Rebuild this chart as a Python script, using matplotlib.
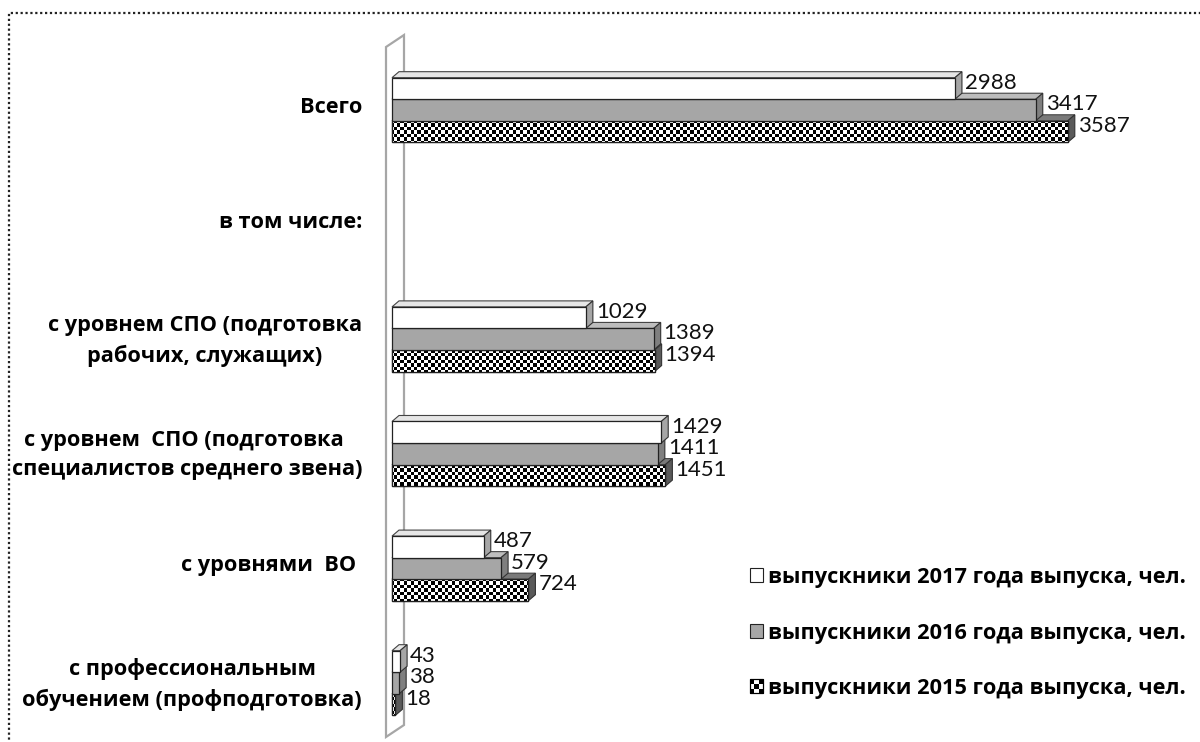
import numpy as np
import matplotlib
matplotlib.use("Agg")
from matplotlib import pyplot as plt
from matplotlib.patches import Rectangle, Polygon
from matplotlib.legend_handler import HandlerBase

plt.rcParams['font.family'] = ['Lato', 'DejaVu Sans']
BOLD_FONT = ['Open Sans', 'DejaVu Sans']

# categories (top to bottom)
categories = [
    "Всего",
    "в том числе:",
    "с уровнем СПО (подготовка\nрабочих, служащих)",
    "с уровнем  СПО (подготовка \nспециалистов среднего звена)",
    "с уровнями  ВО ",
    "с профессиональным\nобучением (профподготовка)",
]
vals_2017 = [2988, np.nan, 1029, 1429, 487, 43]
vals_2016 = [3417, np.nan, 1389, 1411, 579, 38]
vals_2015 = [3587, np.nan, 1394, 1451, 724, 18]
series_labels = [
    "выпускники 2017 года выпуска, чел.",
    "выпускники 2016 года выпуска, чел.",
    "выпускники 2015 года выпуска, чел.",
]

W, H = 1200, 742
fig = plt.figure(figsize=(W / 100, H / 100), dpi=100)

# axes geometry (pixels)
px_per_unit = 0.1884
xmin, xmax = -100, 4150
ax_left_px = 392 + xmin * px_per_unit
ax_w_px = (xmax - xmin) * px_per_unit
ax_top_px = 35
row_px = 114.6
y0_px = 110  # centre of first category
ymin = (ax_top_px - y0_px) / row_px
ymax = (H - y0_px) / row_px

ax = fig.add_axes([ax_left_px / W, 0, ax_w_px / W, (H - ax_top_px) / H])
ax.set_xlim(xmin, xmax)
ax.set_ylim(ymax, ymin)
for s in ax.spines.values():
    s.set_visible(False)
ax.set_xticks([])

# depth of the 3D effect
dx = 7 / px_per_unit
dy = 6 / row_px
bar_h = 0.188


def px2d(px, py):
    return (px - 392) / px_per_unit, (py - y0_px) / row_px


# side wall
wall = Polygon([px2d(386, 47), px2d(404, 35), px2d(404, 725), px2d(386, 737)],
               closed=True, facecolor='white', edgecolor='#a6a6a6', lw=1.6,
               zorder=1, clip_on=False)
ax.add_patch(wall)

# checker image for 2015 series
cell = 3.4
nx = int(ax_w_px / cell)
ny = int((H - ax_top_px) / cell)
checker = (np.add.outer(np.arange(ny), np.arange(nx)) % 2).astype(float)

ypos = np.arange(len(categories))
series = [
    (vals_2015, bar_h, 'checker', '#5a5a5a', '#7a7a7a', 3),
    (vals_2016, 0.0, '#a6a6a6', '#7f7f7f', '#bdbdbd', 4),
    (vals_2017, -bar_h, '#ffffff', '#a6a6a6', '#e6e6e6', 5),
]

for vals, off, face, side_c, top_c, z in series:
    for i, v in enumerate(vals):
        if np.isnan(v):
            continue
        yc = ypos[i] + off
        yt, yb = yc - bar_h / 2, yc + bar_h / 2
        fc = 'white' if face == 'checker' else face
        rect = Rectangle((0, yt), v, bar_h, facecolor=fc, edgecolor='#222222',
                         lw=0.9, zorder=z)
        ax.add_patch(rect)
        if face == 'checker':
            im = ax.imshow(checker, cmap='gray_r', vmin=0, vmax=1,
                           extent=(xmin, xmax, ymax, ymin), aspect='auto',
                           interpolation='nearest', zorder=z + 0.1)
            im.set_clip_path(rect)
            edge = Rectangle((0, yt), v, bar_h, fill=False, edgecolor='#222222',
                             lw=0.9, zorder=z + 0.2)
            ax.add_patch(edge)
        top = Polygon([(0, yt), (v, yt), (v + dx, yt - dy), (dx, yt - dy)],
                      closed=True, facecolor=top_c, edgecolor='#444444', lw=0.8,
                      zorder=z - 0.3)
        side = Polygon([(v, yt), (v + dx, yt - dy), (v + dx, yb - dy), (v, yb)],
                       closed=True, facecolor=side_c, edgecolor='#333333', lw=0.8,
                       zorder=z - 0.3)
        ax.add_patch(top)
        ax.add_patch(side)
        ax.text(v + dx + 3 / px_per_unit, yc - 0.05, str(int(v)), fontsize=16,
                color='#111111', ha='left', va='center', zorder=10)

ax.set_xlim(xmin, xmax)
ax.set_ylim(ymax, ymin)

# category labels, nudged up a few pixels (ticks are invisible)
ax.set_yticks(ypos - 5 / row_px)
ax.set_yticklabels(categories, fontsize=15.7, fontweight='bold', family=BOLD_FONT)
for t in ax.get_yticklabels():
    t.set_multialignment('center')
    t.set_linespacing(1.5)
ax.tick_params(axis='y', length=0, pad=(ax_left_px - 362) * 0.72)


# legend
class CheckerHandler(HandlerBase):
    def create_artists(self, legend, orig_handle, xdescent, ydescent, width,
                       height, fontsize, trans):
        s = height
        x0, y0 = -xdescent + (width - s) / 2, -ydescent
        arts = [Rectangle((x0, y0), s, s, facecolor='white', edgecolor='black',
                          lw=0.8, transform=trans)]
        n = 3
        c = s / n
        for i in range(n):
            for j in range(n):
                if (i + j) % 2 == 0:
                    arts.append(Rectangle((x0 + i * c, y0 + j * c), c, c,
                                          facecolor='black', lw=0, transform=trans))
        arts.append(Rectangle((x0, y0), s, s, fill=False, edgecolor='black',
                              lw=0.8, transform=trans))
        return arts


class SquareHandler(HandlerBase):
    def create_artists(self, legend, orig_handle, xdescent, ydescent, width,
                       height, fontsize, trans):
        s = height
        x0, y0 = -xdescent + (width - s) / 2, -ydescent
        return [Rectangle((x0, y0), s, s, facecolor=orig_handle.get_facecolor(),
                          edgecolor='#222222', lw=0.8, transform=trans)]


h17 = Rectangle((0, 0), 1, 1, facecolor='white')
h16 = Rectangle((0, 0), 1, 1, facecolor='#a6a6a6')
h15 = Rectangle((0, 0), 1, 1, facecolor='white')
leg = ax.legend([h17, h16, h15], series_labels,
                handler_map={h17: SquareHandler(), h16: SquareHandler(),
                             h15: CheckerHandler()},
                loc='center left', bbox_to_anchor=(739 / W, 1 - 633 / H),
                bbox_transform=fig.transFigure, frameon=False,
                prop={'size': 15.7, 'weight': 'bold', 'family': BOLD_FONT},
                labelspacing=1.58, handlelength=0.6, handleheight=0.6,
                handletextpad=0.25, borderpad=0)

# dotted frame
frame = Rectangle((9 / W, -0.1), 1.2, 1.1 - 13 / H, transform=fig.transFigure,
                  fill=False, edgecolor='#222222', lw=1.6, ls=(0, (1, 1.2)))
fig.add_artist(frame)

fig.savefig("out.png", dpi=100)
